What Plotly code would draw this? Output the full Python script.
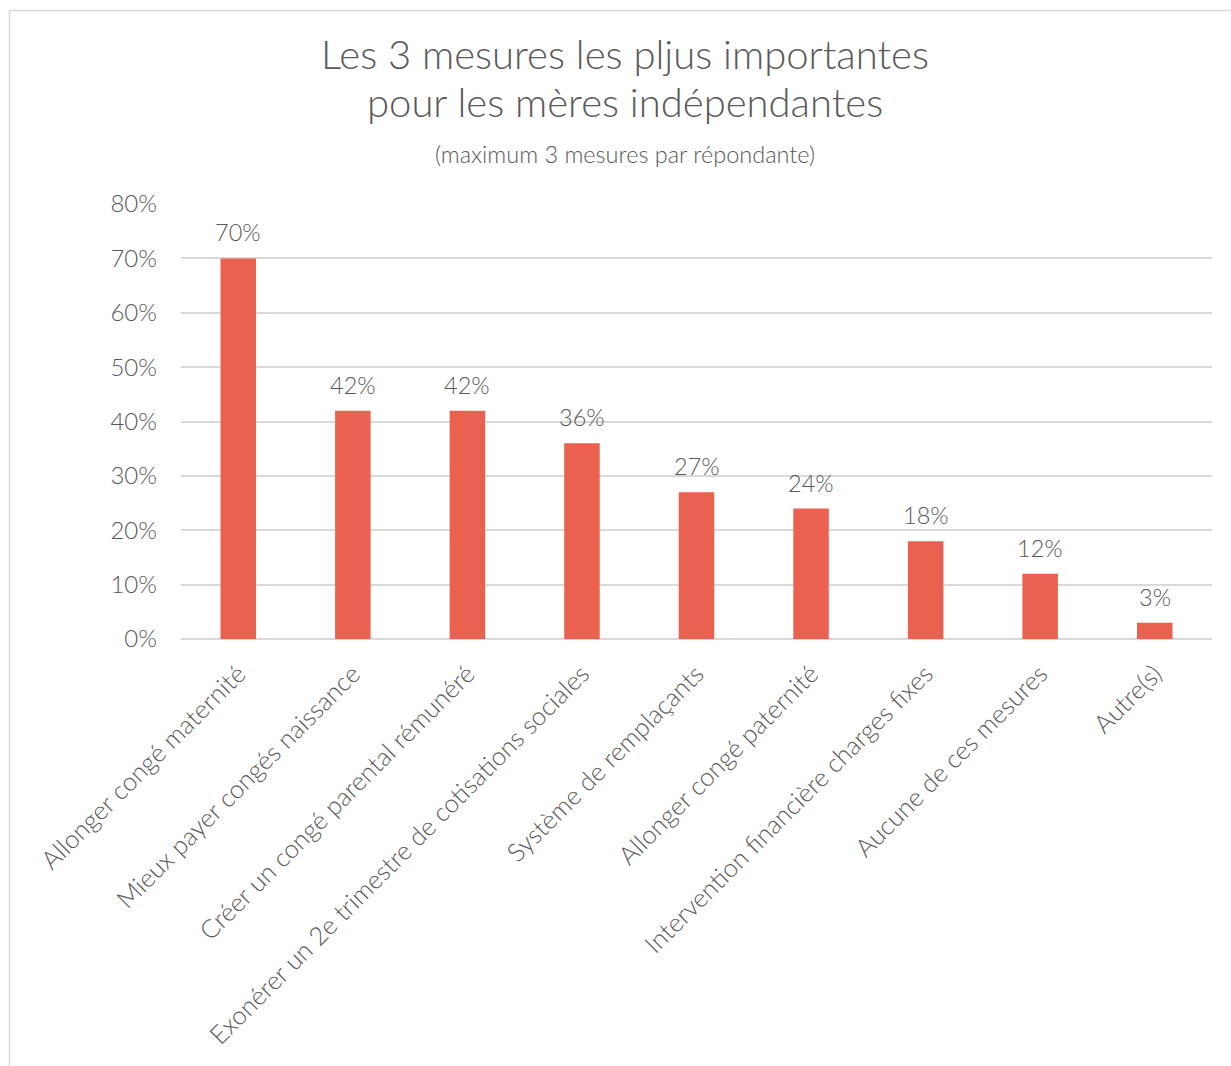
import plotly.graph_objects as go

categories = [
    "Allonger congé maternité",
    "Mieux payer congés naissance",
    "Créer un congé parental rémunéré",
    "Exonérer un 2e trimestre de cotisations sociales",
    "Système de remplaçants",
    "Allonger congé paternité",
    "Intervention financière charges fixes",
    "Aucune de ces mesures",
    "Autre(s)",
]
values = [70, 42, 42, 36, 27, 24, 18, 12, 3]
y_ticks = [0, 10, 20, 30, 40, 50, 60, 70, 80]
y_tick_labels = [f"{v}%" for v in y_ticks]

title_line1 = "Les 3 mesures les pljus importantes"
title_line2 = "pour les mères indépendantes"
subtitle = "(maximum 3 mesures par répondante)"

FONT = "Lato, 'Open Sans', sans-serif"
WEIGHT = 300
TXT = "#595959"
W, H = 1231, 1066
L, R, T, B = 181, 19, 204, 427
ph = H - T - B
pw = W - L - R

def px_to_py(py):
    return (H - B - py) / ph

def px_to_px(px):
    return (px - L) / pw

fig = go.Figure(
    go.Bar(
        x=categories,
        y=values,
        marker=dict(color="#EB6150", line=dict(width=0)),
        cliponaxis=False,
    )
)

label_annots = [
    dict(x=c, y=v, xref="x", yref="y", text=f"{v}%", showarrow=False,
         xanchor="center", yanchor="middle", yshift=26,
         font=dict(family=FONT, size=23.5, color=TXT, weight=WEIGHT))
    for c, v in zip(categories, values)
]

fig.update_layout(
    width=W,
    height=H,
    margin=dict(l=L, r=R, t=T, b=B, autoexpand=False),
    paper_bgcolor="white",
    plot_bgcolor="white",
    bargap=0.69,
    showlegend=False,
    font=dict(family=FONT, color=TXT, weight=WEIGHT),
    xaxis=dict(
        tickangle=-45,
        tickfont=dict(family=FONT, size=25.5, color=TXT, weight=WEIGHT),
        showgrid=False,
        showline=False,
        ticks="",
        ticklabelstandoff=14,
        automargin=False,
    ),
    yaxis=dict(
        range=[0, 80],
        tickvals=y_ticks,
        ticktext=y_tick_labels,
        tickfont=dict(family=FONT, size=24, color=TXT, weight=WEIGHT),
        showgrid=True,
        gridcolor="#d9d9d9",
        gridwidth=1.5,
        zeroline=True,
        zerolinecolor="#d9d9d9",
        zerolinewidth=1.8,
        ticks="",
        ticklen=0,
        ticklabelstandoff=23,
        automargin=False,
    ),
    annotations=label_annots + [
        dict(text=title_line1, xref="paper", yref="paper", x=px_to_px(625), y=px_to_py(54),
             xanchor="center", yanchor="middle", showarrow=False,
             font=dict(family=FONT, size=40, color=TXT, weight=WEIGHT)),
        dict(text=title_line2, xref="paper", yref="paper", x=px_to_px(625), y=px_to_py(102),
             xanchor="center", yanchor="middle", showarrow=False,
             font=dict(family=FONT, size=40, color=TXT, weight=WEIGHT)),
        dict(text=subtitle, xref="paper", yref="paper", x=px_to_px(625), y=px_to_py(154),
             xanchor="center", yanchor="middle", showarrow=False,
             font=dict(family=FONT, size=23.5, color=TXT, weight=WEIGHT)),
    ],
    shapes=[
        dict(type="rect", xref="paper", yref="paper",
             x0=px_to_px(9.5), x1=px_to_px(1300), y0=px_to_py(1200), y1=px_to_py(10.5),
             line=dict(color="#d9d9d9", width=1.5), fillcolor="rgba(0,0,0,0)", layer="below"),
    ],
)

fig.write_html("out.html")
